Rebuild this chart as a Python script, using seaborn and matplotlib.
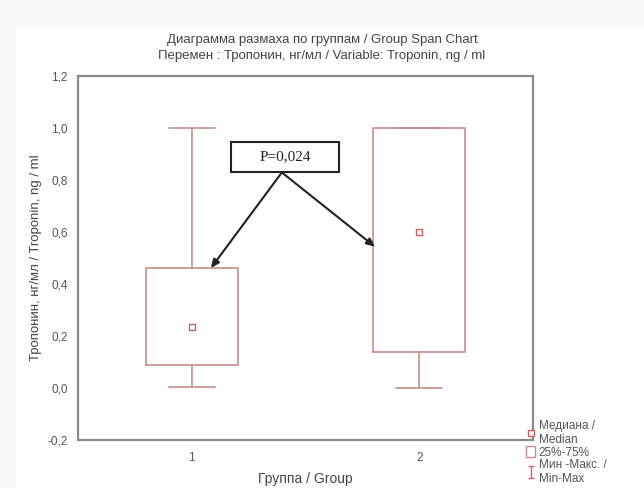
import numpy as np
import matplotlib
matplotlib.use("Agg")
import matplotlib.pyplot as plt
import matplotlib.patches as mpatches
from matplotlib.lines import Line2D
from matplotlib.path import Path
import seaborn as sns

# values
groups = [1, 2]
mins = [0.005, 0.0]
q1 = [0.09, 0.14]
medians = [0.235, 0.60]
q3 = [0.46, 1.00]
maxs = [1.00, 1.00]
yticks = [-0.2, 0.0, 0.2, 0.4, 0.6, 0.8, 1.0, 1.2]
ytick_labels = ["-0,2", "0,0", "0,2", "0,4", "0,6", "0,8", "1,0", "1,2"]
p_text = "P=0,024"

sns.set_style("white")
plt.rcParams['font.family'] = ['Liberation Sans', 'DejaVu Sans']

box_col = "#c98c8c"
fig = plt.figure(figsize=(6.44, 4.88), dpi=100, facecolor="#f6f7fb")
bg = mpatches.Rectangle((16 / 644, 0), 1, 1 - 25 / 488, transform=fig.transFigure,
                        facecolor="white", edgecolor="none", zorder=-10)
fig.patches.append(bg)
ax = fig.add_axes([78 / 644, 48 / 488, 455 / 644, 364 / 488], zorder=2)

stats = []
for g, lo, a, m, b, hi in zip(groups, mins, q1, medians, q3, maxs):
    stats.append(dict(label=str(g), whislo=lo, q1=a, med=m, q3=b, whishi=hi, fliers=[]))
ax.bxp(stats, positions=groups, widths=0.405, showfliers=False,
       boxprops=dict(color=box_col, linewidth=1.2),
       whiskerprops=dict(color=box_col, linewidth=1.2),
       capprops=dict(color=box_col, linewidth=1.2),
       medianprops=dict(linewidth=0))

sns.scatterplot(x=groups, y=medians, marker="s", s=22, facecolor="white",
                edgecolor="#d06060", linewidth=1.0, ax=ax, zorder=5)

ax.set_xlim(0.5, 2.5)
ax.set_ylim(-0.2, 1.2)
ax.set_xticks(groups)
ax.set_xticklabels([str(g) for g in groups])
ax.set_yticks(yticks)
ax.set_yticklabels(ytick_labels)
ax.tick_params(axis="both", labelsize=8.5, colors="#555555", length=3, width=0.8,
               direction="inout")
ax.tick_params(axis="x", pad=7)
ax.tick_params(axis="y", pad=6)
for sp in ax.spines.values():
    sp.set_color("#8a8a8a")
    sp.set_linewidth(1.6)

ax.set_xlabel("Группа / Group", fontsize=10, color="#444444", labelpad=6)
ax.set_ylabel("Тропонин, нг/мл / Troponin, ng / ml", fontsize=9.5, color="#444444",
              labelpad=4)
fig.text(0.5, 1 - 40 / 488, "Диаграмма размаха по группам / Group Span Chart",
         ha="center", va="center", fontsize=9.5, color="#444444")
fig.text(0.5, 1 - 56 / 488, "Перемен : Тропонин, нг/мл / Variable: Troponin, ng / ml",
         ha="center", va="center", fontsize=9.5, color="#444444")

# p-value callout
ax.add_patch(mpatches.Rectangle((1.172, 0.829), 0.476, 0.117, facecolor="white",
                                edgecolor="#222222", linewidth=1.5, zorder=6))
ax.text(1.41, 0.888, p_text, ha="center", va="center", fontsize=11,
        family=["Liberation Serif", "DejaVu Serif"], color="#222222", zorder=7)
for tx, ty in [(1.084, 0.461), (1.806, 0.543)]:
    ax.annotate("", xy=(tx, ty), xytext=(1.396, 0.829),
                arrowprops=dict(arrowstyle="-|>,head_length=0.5,head_width=0.22",
                                color="#222222", lw=1.5, shrinkA=0, shrinkB=0),
                zorder=6)

# legend, outside the axes at bottom right
ibeam = Path([(-0.5, 1), (0.5, 1), (0, 1), (0, -1), (-0.5, -1), (0.5, -1)],
             [Path.MOVETO, Path.LINETO, Path.MOVETO, Path.LINETO, Path.MOVETO, Path.LINETO])
handles = [
    Line2D([], [], marker="s", linestyle="none", markersize=4,
           markerfacecolor="white", markeredgecolor="#d06060"),
    mpatches.Patch(facecolor="white", edgecolor=box_col),
    Line2D([], [], marker=ibeam, linestyle="none", markersize=8,
           markerfacecolor="none", markeredgecolor="#d06060", markeredgewidth=1),
]
labels = ["Медиана /\nMedian", "25%-75%", "Мин -Макс. /\nMin-Max"]
leg = fig.legend(handles, labels, loc="upper left",
                 bbox_to_anchor=(520 / 644, 1 - 414 / 488), frameon=False,
                 fontsize=8.5, handlelength=0.8, handleheight=1.0, handletextpad=0.3,
                 labelspacing=0.05, borderpad=0)
for t in leg.get_texts():
    t.set_color("#555555")

fig.savefig("out.png", dpi=100, facecolor=fig.get_facecolor())
